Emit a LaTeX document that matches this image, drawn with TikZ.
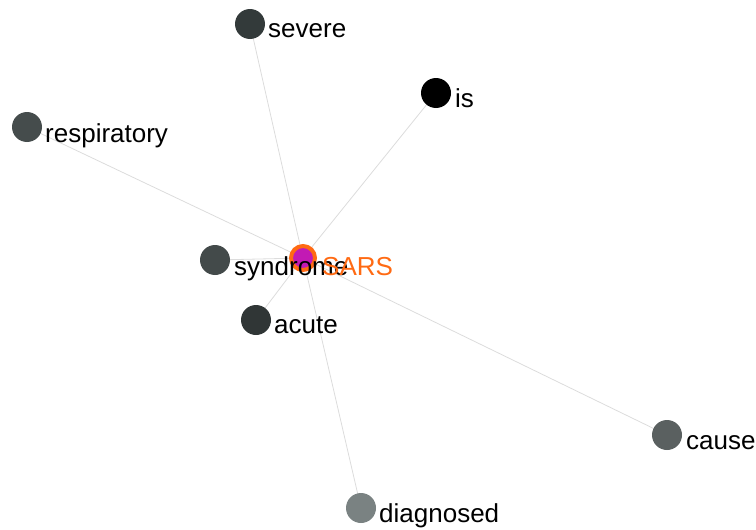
\documentclass[tikz,border=0pt]{standalone}
\usepackage{fontspec}
\setmainfont{Liberation Sans}
\definecolor{edgegray}{HTML}{DCDCDC}
\definecolor{nSevere}{HTML}{333A3A}
\definecolor{nIs}{HTML}{000000}
\definecolor{nResp}{HTML}{454C4C}
\definecolor{nSynd}{HTML}{434A4A}
\definecolor{nAcute}{HTML}{303636}
\definecolor{nCause}{HTML}{5A6060}
\definecolor{nDiag}{HTML}{7A8282}
\definecolor{hubFill}{HTML}{C21AB4}
\definecolor{hubRing}{HTML}{FF6A13}
\tikzset{
  word/.style={circle,inner sep=0pt,minimum size=30pt,fill=#1},
  wordlabel/.style={anchor=base west,inner sep=0pt,font=\fontsize{26}{30}\selectfont,text=#1},
  wordlabel/.default=black,
  link/.style={draw=edgegray,line width=0.8pt},
}
\begin{document}
\begin{tikzpicture}[x=1pt,y=-1pt]
\useasboundingbox (0,0) rectangle (756,530);
\coordinate (hubc) at (303,258);
% placement of the word nodes
\coordinate (severe) at (250,24);
\coordinate (is) at (436,93);
\coordinate (resp) at (27,127);
\coordinate (synd) at (215,260);
\coordinate (acute) at (256,320);
\coordinate (cause) at (667,435);
\coordinate (diag) at (361,508);
% links from the hub
\foreach \n in {severe,is,resp,synd,acute,cause,diag}
  \draw[link] (hubc) -- (\n);
% word nodes above the links
\node[word=nSevere] (nsevere) at (severe) {};
\node[word=nIs] (nis) at (is) {};
\node[word=nResp] (nresp) at (resp) {};
\node[word=nSynd] (nsynd) at (synd) {};
\node[word=nAcute] (nacute) at (acute) {};
\node[word=nCause] (ncause) at (cause) {};
\node[word=nDiag] (ndiag) at (diag) {};
% hub node
\node[circle,inner sep=0pt,minimum size=24pt,fill=hubFill,draw=hubRing,line width=4pt] (sars) at (hubc) {};
% labels
\node[wordlabel] (lsevere) at (268,37) {severe};
\node[wordlabel] (lis) at (455,107) {is};
\node[wordlabel] (lresp) at (45,142) {respiratory};
\node[wordlabel] (lsynd) at (234,275) {syndrome};
\node[wordlabel] (lacute) at (274,333) {acute};
\node[wordlabel] (lcause) at (686,449) {cause};
\node[wordlabel] (ldiag) at (379,522) {diagnosed};
\node[wordlabel=hubRing] (lsars) at (322,275) {SARS};
\end{tikzpicture}
\end{document}
